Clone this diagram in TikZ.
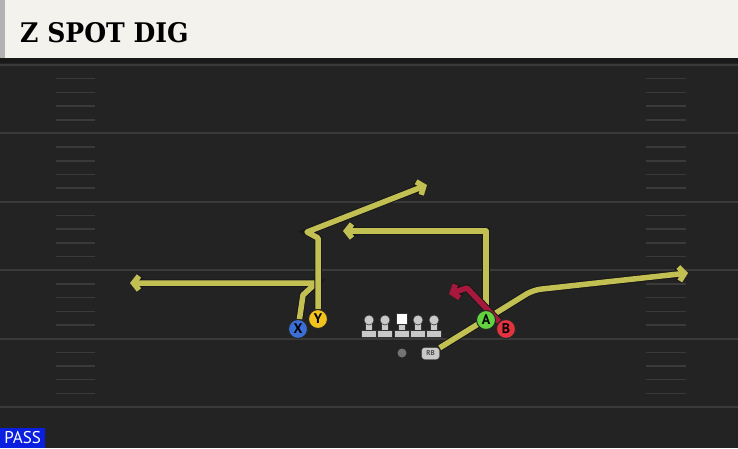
\documentclass[tikz,border=0pt]{standalone}
\usepackage{fontspec}
\usetikzlibrary{arrows.meta,positioning}
\newfontfamily\titlefont{DejaVu Serif}
\newfontfamily\labelfont{PT Sans}
\definecolor{fieldgray}{HTML}{232323}
\definecolor{yardline}{HTML}{3A3A3A}
\definecolor{headercream}{HTML}{F4F2EC}
\definecolor{routeyellow}{HTML}{C2C053}
\definecolor{routered}{HTML}{A8183C}
\definecolor{xblue}{HTML}{3C6FD6}
\definecolor{yyellow}{HTML}{F2C21E}
\definecolor{agreen}{HTML}{62D23E}
\definecolor{bred}{HTML}{E2343F}
\definecolor{passblue}{HTML}{0B1FE0}
\definecolor{olgray}{HTML}{C9C9C9}
\pgfdeclarelayer{field}
\pgfdeclarelayer{routes}
\pgfsetlayers{field,routes,main}

\begin{document}
\begin{tikzpicture}[x=1pt,y=-1pt,
  player/.style={circle,draw=black!85,line width=1pt,minimum size=19pt,inner sep=0pt,font=\labelfont\bfseries\fontsize{14}{14}\selectfont},
  route/.style={draw=routeyellow,line width=5.5pt,line join=round,-{Straight Barb[length=5.5pt,width=14pt]},preaction={draw=black!90,line width=7.5pt}},
  redroute/.style={route,draw=routered},
  lineman/.style={fill=olgray,draw=black!80,line width=0.6pt}]
  \useasboundingbox (0,0) rectangle (738,448);

  % field
  \begin{pgfonlayer}{field}
    \fill[fieldgray] (0,58) rectangle (738,448);
    \fill[black!90] (0,58) rectangle (738,63);
    \foreach \k in {0,...,5}
      \draw[yardline,line width=2pt] (0,65+68.4*\k) -- (738,65+68.4*\k);
    \foreach \k in {0,...,4}
      \foreach \h in {1,...,4} {
        \draw[yardline,line width=1.5pt] (56,65+68.4*\k+13.7*\h) -- (95,65+68.4*\k+13.7*\h);
        \draw[yardline,line width=1.5pt] (646,65+68.4*\k+13.7*\h) -- (686,65+68.4*\k+13.7*\h);
      }
  \end{pgfonlayer}

  % header
  \fill[headercream] (0,0) rectangle (738,58);
  \fill[black!30] (0,0) rectangle (5,58);
  \node[anchor=base west,inner sep=0pt,font=\titlefont\bfseries\fontsize{27}{27}\selectfont] (title) at (20,42) {\scalebox{0.93}[1]{Z SPOT DIG}};

  % offensive line
  \foreach \x in {369,385,418,434} {
    \draw[lineman] (\x-7.5,330) rectangle (\x+7.5,337);
    \draw[lineman] (\x-3.5,322) rectangle (\x+3.5,330);
    \draw[lineman] (\x,320) circle (5);
  }
  \draw[lineman] (394.5,330) rectangle (409.5,337);
  \draw[lineman] (398.5,322) rectangle (405.5,330);
  \draw[fill=white,draw=black!80,line width=0.6pt] (396.5,313) rectangle (407.5,324);

  \node[circle,fill=black!55,minimum size=9pt,inner sep=0pt] (ball) at (402,353) {};
  \node[rounded corners=3pt,fill=olgray,draw=black!80,minimum width=18pt,minimum height=12pt,inner sep=0pt,font=\labelfont\bfseries\fontsize{7}{7}\selectfont,text=black!70] (RB) at (430.5,353.5) {RB};

  \node[player,fill=xblue] (X) at (298,329) {X};
  \node[player,fill=yyellow] (Y) at (318,319) {Y};
  \node[player,fill=agreen] (A) at (486,320) {A};
  \node[player,fill=bred] (B) at (506,329) {B};

  \node[fill=passblue,text=white,anchor=south west,minimum width=45pt,minimum height=20pt,inner sep=0pt,font=\labelfont\fontsize{17}{17}\selectfont] (play) at (0,448) {PASS};

  \coordinate (xtip) at (130,283);
  \coordinate (ytip) at (427,185);
  \coordinate (atip) at (343,231);
  \coordinate (btip) at (449,294);
  \coordinate (rbtip) at (688,273);

  % routes
  \begin{pgfonlayer}{routes}
    \draw[route] (X) -- (303,295) -- (316,283) -- (xtip);
    \draw[route] (Y) -- (318,238) -- (307,232) -- (ytip);
    \draw[route] (A) -- (486,231) -- (atip);
    \draw[route,rounded corners=8pt] (RB) -- (533,290) -- (rbtip);
    \draw[redroute] (B) -- (467,288) -- (btip);
  \end{pgfonlayer}
\end{tikzpicture}
\end{document}
